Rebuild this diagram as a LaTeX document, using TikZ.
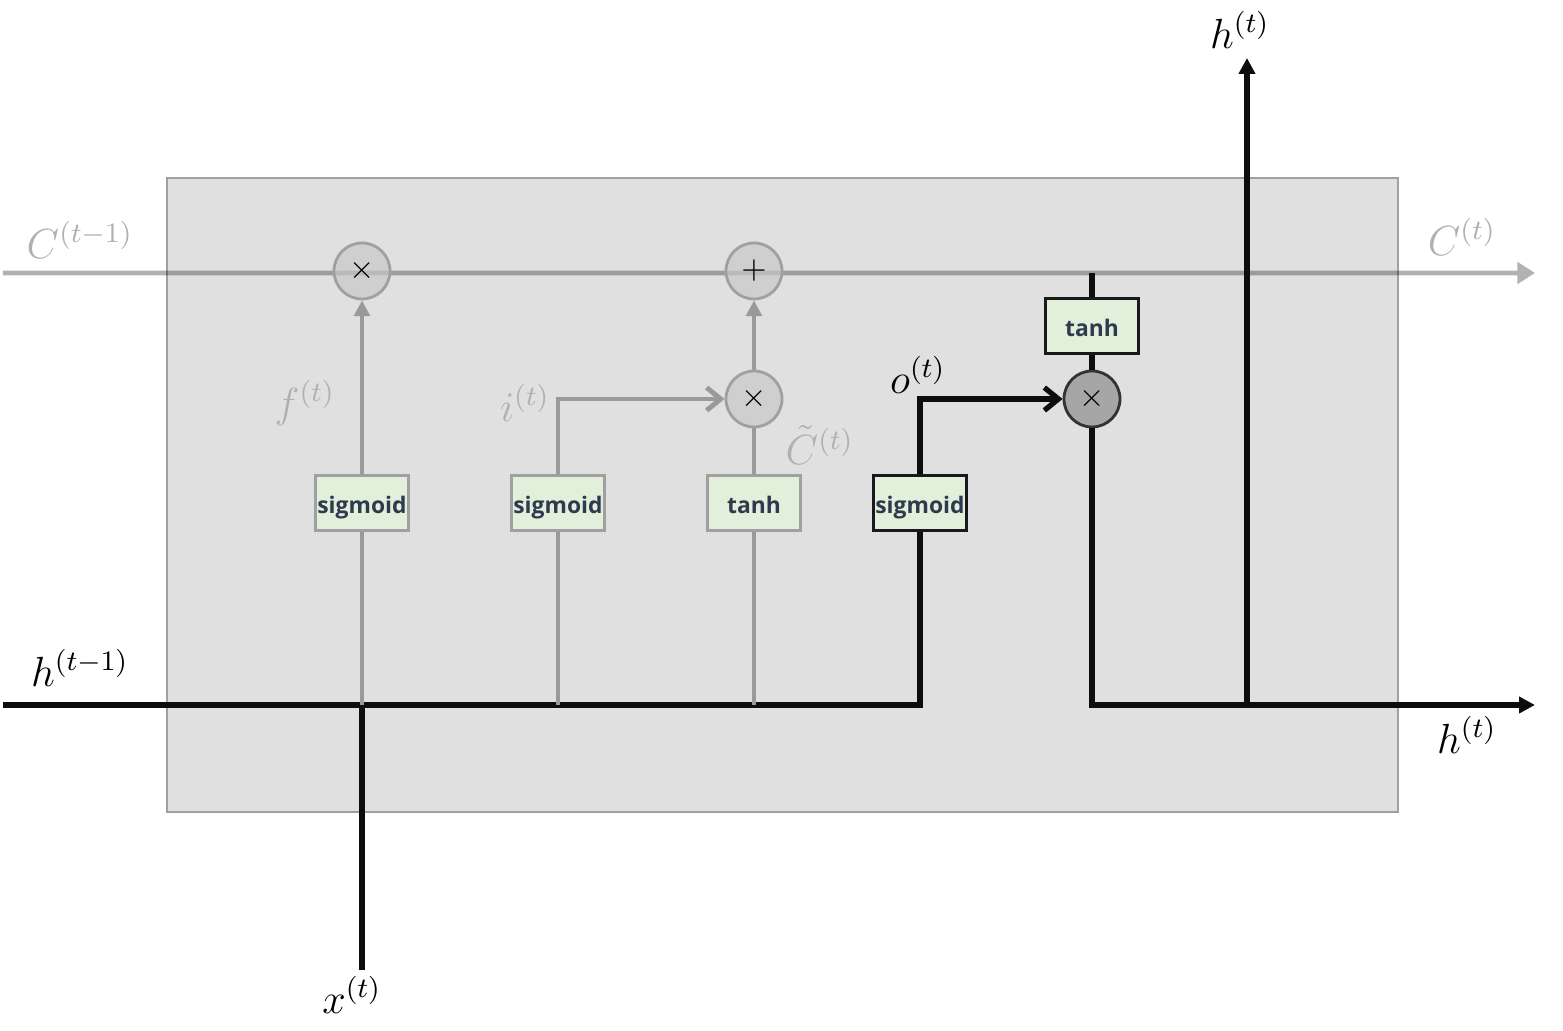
\documentclass[tikz,border=0pt]{standalone}
\usepackage{fontspec}
\usepackage{amsmath}
\newfontfamily\gatefont{Open Sans}
\usetikzlibrary{arrows.meta, positioning}
\definecolor{cellgray}{RGB}{224, 224, 224}
\definecolor{celledge}{RGB}{160, 160, 160}
\definecolor{gatefill}{RGB}{226, 239, 218}
\definecolor{gatetext}{RGB}{46, 58, 78}
\definecolor{pathgray}{RGB}{154, 154, 154}
\definecolor{labelgray}{RGB}{176, 176, 176}
\definecolor{opfill}{RGB}{200, 200, 200}
\definecolor{opdark}{RGB}{166, 166, 166}

\begin{document}
\begin{tikzpicture}[
    gate/.style={rectangle, draw=celledge, fill=gatefill, line width=0.8pt, minimum width=0.93cm, minimum height=0.55cm, inner sep=0pt, text height=1.5ex, text depth=0.1ex, font=\gatefont\bfseries\fontsize{6.5}{7}\selectfont, text=gatetext},
    gateblk/.style={gate, draw=black!90},
    op/.style={circle, draw=celledge, fill=opfill, fill opacity=0.7, text opacity=1, line width=0.8pt, minimum size=0.56cm, inner sep=0pt, font=\small},
    opdk/.style={op, fill=opdark, fill opacity=1, draw=black!80},
    gline/.style={draw=pathgray, line width=1.4pt},
    bline/.style={draw=black!95, line width=1.5pt},
    cline/.style={draw=black, line width=1.4pt},
    tri/.style={-{Triangle[length=4.5pt, width=4.5pt]}},
    bigtri/.style={-{Triangle[length=5pt, width=6pt]}},
    barb/.style={-{Straight Barb[length=4pt, width=6.5pt]}},
    lbl/.style={font=\large, inner sep=1pt},
    glbl/.style={lbl, text=labelgray}
]
    \useasboundingbox (0, 0) rectangle (15.63, -10.31);

    % cell body
    \draw[draw=celledge, fill=cellgray, line width=0.6pt] (1.67, -1.78) rectangle (13.98, -8.12);

    % free ends
    \coordinate (cin) at (0.03, -2.73);
    \coordinate (cout) at (15.35, -2.73);
    \coordinate (ctap) at (10.92, -2.73);
    \coordinate (hin) at (0.03, -7.05);
    \coordinate (hout) at (15.35, -7.05);
    \coordinate (htop) at (12.47, -0.58);
    \coordinate (hj5) at (12.47, -7.05);
    \coordinate (xin) at (3.62, -9.70);
    \coordinate (xj) at (3.62, -7.05);
    \coordinate (hj2) at (5.58, -7.05);
    \coordinate (hj3) at (7.54, -7.05);

    % cell state line
    \begin{scope}[transparency group, opacity=0.3]
        \draw[cline, bigtri] (cin) -- (cout);
    \end{scope}

    % Row 1: cell state ops
    \node[op] (mulf) at (3.62, -2.71) {$\times$};
    \node[op] (addc) at (7.54, -2.71) {$+$};

    % Row 2: products
    \node[op] (muli) at (7.54, -3.99) {$\times$};
    \node[opdk] (mulo) at (10.92, -3.99) {$\times$};
    \node[gateblk] (tanh2) at (10.92, -3.26) {tanh};

    % Row 3: gates
    \node[gate] (sig1) at (3.62, -5.03) {sigmoid};
    \node[gate] (sig2) at (5.58, -5.03) {sigmoid};
    \node[gate] (tanh1) at (7.54, -5.03) {tanh};
    \node[gateblk] (sig4) at (9.20, -5.03) {sigmoid};

    % Labels
    \node[glbl] (cprev) at (0.80, -2.40) {$C^{(t-1)}$};
    \node[glbl] (cnext) at (14.62, -2.37) {$C^{(t)}$};
    \node[lbl] (hprev) at (0.80, -6.68) {$h^{(t-1)}$};
    \node[lbl] (hnext) at (14.67, -7.35) {$h^{(t)}$};
    \node[lbl] (hup) at (12.40, -0.30) {$h^{(t)}$};
    \node[lbl] (xlbl) at (3.52, -9.95) {$x^{(t)}$};
    \node[glbl] (flbl) at (3.05, -4.03) {$f^{(t)}$};
    \node[glbl] (ilbl) at (5.25, -4.03) {$i^{(t)}$};
    \node[glbl, anchor=west, inner sep=0pt] (ctlbl) at (7.85, -4.45) {$\tilde{C}^{(t)}$};
    \node[lbl] (olbl) at (9.18, -3.75) {$o^{(t)}$};

    % Arrows
    \draw[bline] (hin) -| (sig4.south);
    \draw[bline] (xin) -- (xj);
    \draw[gline] (xj) -- (sig1.south);
    \draw[gline] (hj2) -- (sig2.south);
    \draw[gline] (hj3) -- (tanh1.south);
    \draw[gline, tri] (sig1.north) -- (mulf.south);
    \draw[gline, barb] (sig2.north) |- (muli.west);
    \draw[gline] (tanh1.north) -- (muli.south);
    \draw[gline, tri] (muli.north) -- (addc.south);
    \draw[bline, barb] (sig4.north) |- (mulo.west);
    \draw[bline] (ctap) -- (tanh2.north);
    \draw[bline] (tanh2.south) -- (mulo.north);
    \draw[bline, tri] (mulo.south) |- (hout);
    \draw[bline, tri] (hj5) -- (htop);
\end{tikzpicture}
\end{document}
